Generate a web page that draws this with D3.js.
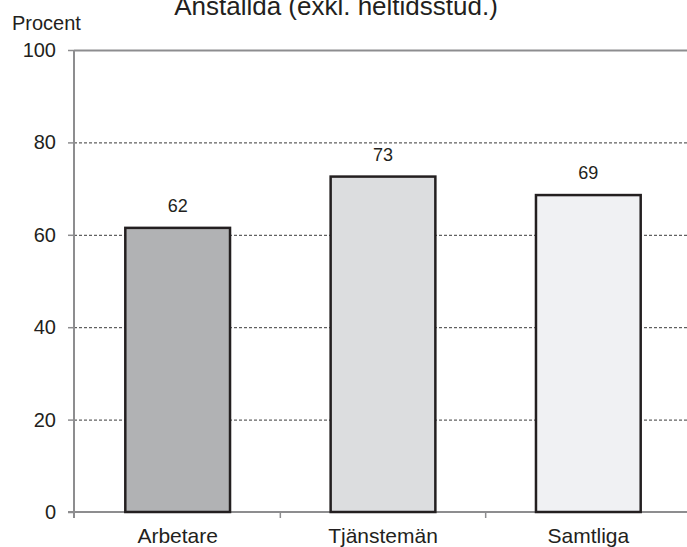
<!DOCTYPE html>
<html>
<head>
<meta charset="utf-8">
<script src="https://d3js.org/d3.v7.min.js"></script>
<style>
  body { margin: 0; background: #fff; }
  svg { display: block; font-family: "Liberation Sans", Arial, sans-serif; }
  .tick text { fill: #231f20; }
</style>
</head>
<body>
<div id="chart"></div>
<script>
// data
var categories = ["Arbetare", "Tjänstemän", "Samtliga"];
var values = [61.5, 72.6, 68.6];
var fills = ["#b1b2b4", "#dcdddf", "#f0f1f3"];
var yTicks = [0, 20, 40, 60, 80, 100];

var w = 687, h = 547;
var margin = {top: 50, left: 74, bottom: 35};
var plotBottom = h - margin.bottom;

var svg = d3.select("#chart").append("svg")
    .attr("width", w)
    .attr("height", h);

var xScale = d3.scaleBand()
    .domain(categories)
    .range([margin.left + 1, 691])
    .paddingInner(0.49)
    .paddingOuter(0.245);

var yScale = d3.scaleLinear()
    .domain([0, 100])
    .range([plotBottom, margin.top]);

// gridlines (dotted), top line solid grey
svg.append("g")
    .attr("class", "grid")
    .attr("transform", "translate(" + margin.left + ",0)")
    .call(d3.axisLeft(yScale).tickValues(yTicks.filter(function(d) { return d > 0; }))
        .tickSize(-(w - margin.left)).tickFormat(""))
    .call(function(g) { g.select(".domain").remove(); })
    .selectAll("line")
    .attr("stroke", function(d) { return d === 100 ? "#8d8d8f" : "#3a3a3a"; })
    .attr("stroke-width", function(d) { return d === 100 ? 2 : 1; })
    .attr("stroke-dasharray", function(d) { return d === 100 ? null : "3,2"; });

// y axis
var yAxisG = svg.append("g")
    .attr("transform", "translate(" + margin.left + ",0)")
    .call(d3.axisLeft(yScale).tickValues(yTicks).tickSize(6).tickPadding(12));
yAxisG.select(".domain").remove();
yAxisG.selectAll(".tick line").attr("stroke", "#8d8d8f").attr("stroke-width", 1.5);
yAxisG.selectAll(".tick text").style("font-size", "20px");
yAxisG.append("line")
    .attr("x1", 0).attr("x2", 0)
    .attr("y1", yScale(100)).attr("y2", yScale(0) + 6)
    .attr("stroke", "#8d8d8f").attr("stroke-width", 2);

// x axis
svg.append("line")
    .attr("x1", margin.left - 6).attr("x2", w)
    .attr("y1", yScale(0)).attr("y2", yScale(0))
    .attr("stroke", "#8d8d8f").attr("stroke-width", 2);

var bounds = d3.range(categories.length + 1).map(function(i) {
    return xScale.range()[0] + i * xScale.step();
});
svg.selectAll("line.xtick")
    .data(bounds.slice(1))
    .enter().append("line")
    .attr("class", "xtick")
    .attr("x1", function(d) { return d; }).attr("x2", function(d) { return d; })
    .attr("y1", yScale(0)).attr("y2", yScale(0) + 6)
    .attr("stroke", "#8d8d8f").attr("stroke-width", 1.5);

svg.selectAll("text.cat")
    .data(categories)
    .enter().append("text")
    .attr("class", "cat")
    .attr("x", function(d) { return xScale(d) + xScale.bandwidth() / 2; })
    .attr("y", plotBottom + 31)
    .attr("text-anchor", "middle")
    .style("font-size", "21px")
    .style("fill", "#231f20")
    .text(function(d) { return d; });

// bars
svg.selectAll("rect.bar")
    .data(values)
    .enter().append("rect")
    .attr("class", "bar")
    .attr("x", function(d, i) { return xScale(categories[i]); })
    .attr("width", xScale.bandwidth())
    .attr("y", function(d) { return yScale(d); })
    .attr("height", function(d) { return yScale(0) - yScale(d); })
    .style("fill", function(d, i) { return fills[i]; })
    .style("stroke", "#231f20")
    .style("stroke-width", 2.5);

// value labels
svg.selectAll("text.val")
    .data(values)
    .enter().append("text")
    .attr("class", "val")
    .attr("x", function(d, i) { return xScale(categories[i]) + xScale.bandwidth() / 2; })
    .attr("y", function(d) { return yScale(d) - 16; })
    .attr("text-anchor", "middle")
    .style("font-size", "18px")
    .style("fill", "#231f20")
    .text(function(d) { return Math.round(d); });

// titles
svg.append("text")
    .attr("x", 12)
    .attr("y", 30)
    .style("font-size", "20px")
    .style("fill", "#231f20")
    .text("Procent");

svg.append("text")
    .attr("x", 336)
    .attr("y", 15)
    .attr("text-anchor", "middle")
    .style("font-size", "26px")
    .style("fill", "#231f20")
    .text("Anställda (exkl. heltidsstud.)");
</script>
</body>
</html>
